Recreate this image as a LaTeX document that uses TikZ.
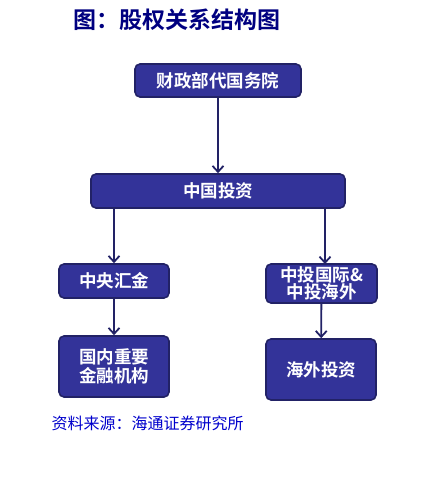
\documentclass[tikz,border=0pt]{standalone}
\usepackage{fontspec}
\newfontfamily\cjk{Noto Sans CJK SC}
\newfontfamily\cjkb{Noto Sans CJK SC Bold}
\usetikzlibrary{arrows.meta}
\definecolor{boxblue}{RGB}{51,51,153}
\definecolor{edgeblue}{RGB}{34,34,102}
\definecolor{titleblue}{RGB}{0,0,128}
\definecolor{srcblue}{RGB}{0,0,204}
\tikzset{
  orgbox/.style={draw=edgeblue, line width=1.6pt, fill=boxblue, rounded corners=5pt,
    text=white, font=\cjkb\fontsize{17.5}{21}\selectfont, align=center, inner sep=0pt},
  link/.style={draw=edgeblue, line width=1.8pt, -{Straight Barb[length=6pt,width=11pt,line width=1.8pt]}}
}
\begin{document}
\begin{tikzpicture}[x=1pt, y=-1pt]
  \useasboundingbox (0,0) rectangle (426,482);

  \node[text=titleblue, font=\cjkb\fontsize{23}{26}\selectfont] (title) at (177,20) {图：股权关系结构图};

  \node[orgbox, minimum width=166pt, minimum height=33pt] (mof) at (218,80.5) {财政部代国务院};
  \node[orgbox, minimum width=254pt, minimum height=34pt] (cic) at (218,191) {中国投资};
  \node[orgbox, minimum width=110pt, minimum height=34pt] (huijin) at (114,281) {中央汇金};
  \node[orgbox, minimum width=111pt, minimum height=39pt] (cici) at (321.5,283.5) {中投国际\&\\[-4pt]中投海外};
  \node[orgbox, minimum width=110pt, minimum height=61pt] (domestic) at (114,366.5) {国内重要\\[-2pt]金融机构};
  \node[orgbox, minimum width=110pt, minimum height=61pt] (overseas) at (321,369.5) {海外投资};

  \draw[link] (mof) -- (cic);
  \draw[link] (cic.south -| huijin) -- (huijin);
  \draw[link] (cic.south -| 325,0) -- (325,264);
  \draw[link] (huijin) -- (domestic);
  \draw[link] (cici) -- (overseas);

  \node[text=srcblue, font=\cjk\fontsize{16}{18}\selectfont, anchor=west] (source) at (48,423) {资料来源：海通证券研究所};
\end{tikzpicture}
\end{document}
